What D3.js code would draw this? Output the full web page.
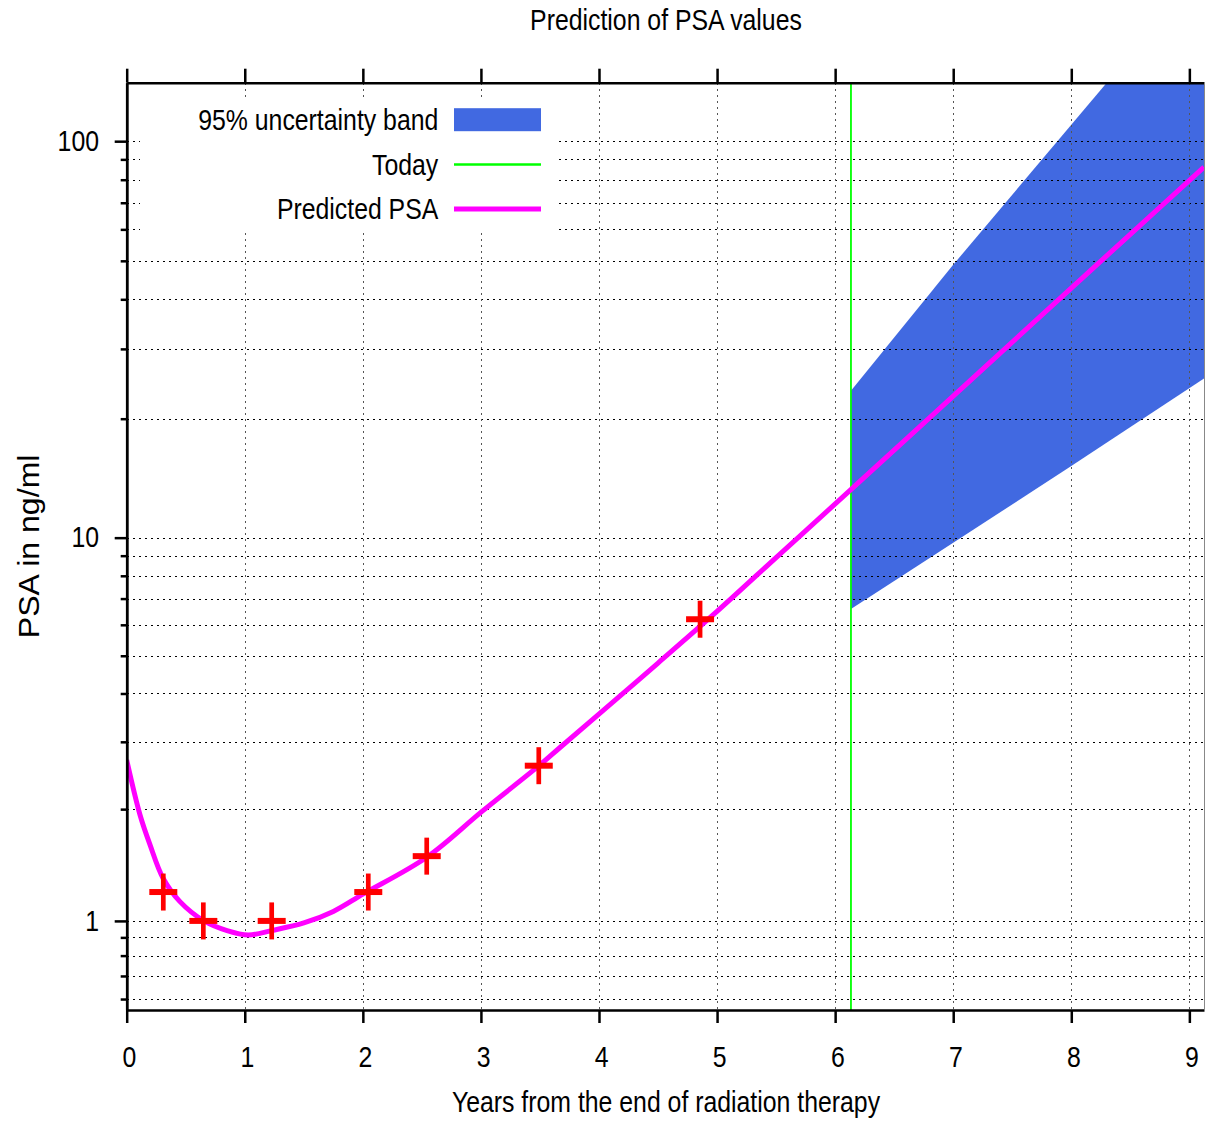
<!DOCTYPE html>
<html>
<head>
<meta charset="utf-8">
<script src="https://cdn.jsdelivr.net/npm/d3@7"></script>
<style>
  html, body { margin: 0; padding: 0; background: #fff; }
  svg { display: block; }
</style>
</head>
<body>
<div id="chart"></div>
<script>
// Measured PSA values (years after radiation therapy, ng/ml)
const measuredYears = [0.31, 0.649, 1.228, 2.046, 2.541, 3.49, 4.856];
const measuredPSA   = [1.2, 1.0, 1.0, 1.2, 1.5, 2.6, 6.2];

// Fitted model curve
const curveYears = [0, 0.113, 0.197, 0.307, 0.451, 0.655, 0.85, 1.03, 1.225, 1.5, 1.75,
                    2.004, 2.541, 3.007, 3.492, 3.67, 4.009, 4.5, 4.997, 5.5, 5.703, 6.14,
                    7, 8, 9.124];
const curvePSA   = [2.69, 1.93, 1.61, 1.31, 1.13, 1.0, 0.94, 0.914, 0.94, 0.987, 1.062,
                    1.186, 1.49, 1.97, 2.60, 2.90, 3.56, 4.79, 6.48, 8.9, 10.1, 13.3,
                    22.8, 42.7, 86.0];

// 95% uncertainty band of the forecast
const bandYears = [6.134, 7, 8, 9.124];
const bandLow   = [6.585, 9.70, 15.19, 25.28];
const bandHigh  = [23.53, 48.87, 110, 273];

const today = 6.134;

// Axis ticks
const xTicks = [0, 1, 2, 3, 4, 5, 6, 7, 8, 9];
const yMajor = [1, 10, 100];
const yMinor = [0.6, 0.7, 0.8, 0.9, 2, 3, 4, 5, 6, 7, 8, 9, 20, 30, 40, 50, 60, 70, 80, 90];

const xDomain = [0, 9.124];
const yDomain = [0.557, 140.3];
const OFFSET = 0.1; // log axis is laid out on (value + OFFSET)

const W = 1205, H = 1125;
const plotL = 126.7, plotR = 1204, plotT = 82.7, plotB = 1010;

const FONT = "'Liberation Sans', Arial, sans-serif";
const NARROW_K = 0.856; // horizontal squeeze giving a narrow face

// squeeze a text horizontally around its own anchor point
function condense(sel, k = NARROW_K) {
  sel.each(function () {
    const t = d3.select(this);
    const ax = +t.attr("x") || 0;
    t.attr("transform", `translate(${ax},0) scale(${k},1) translate(${-ax},0)`);
  });
}

const svg = d3.select("#chart").append("svg")
  .attr("width", W).attr("height", H);

const x = d3.scaleLinear().domain(xDomain).range([plotL, plotR]);
const yS = d3.scaleLog().domain(yDomain.map(v => v + OFFSET)).range([plotB, plotT]);
const y = v => yS(v + OFFSET);

svg.append("defs").append("clipPath").attr("id", "plot-clip")
  .append("rect").attr("x", plotL).attr("y", plotT)
  .attr("width", plotR - plotL).attr("height", plotB - plotT);

const plot = svg.append("g").attr("clip-path", "url(#plot-clip)");

// uncertainty band
const bandData = bandYears.map((t, i) => ({ t, lo: bandLow[i], hi: bandHigh[i] }));
plot.append("path")
  .datum(bandData)
  .attr("fill", "#4169e1")
  .attr("d", d3.area().x(d => x(d.t)).y0(d => y(d.lo)).y1(d => y(d.hi)));

// grid
const grid = plot.append("g")
  .attr("stroke", "#000").attr("stroke-width", 1)
  .attr("stroke-dasharray", "2,4").attr("shape-rendering", "crispEdges");
grid.selectAll("line.h").data(yMajor.concat(yMinor)).join("line")
  .attr("class", "h")
  .attr("x1", plotL).attr("x2", plotR)
  .attr("y1", d => Math.round(y(d)) + 0.5).attr("y2", d => Math.round(y(d)) + 0.5);
grid.selectAll("line.v").data(xTicks.filter(d => d > 0)).join("line")
  .attr("class", "v")
  .attr("stroke", "#555")
  .attr("x1", d => Math.round(x(d)) + 0.5).attr("x2", d => Math.round(x(d)) + 0.5)
  .attr("y1", plotT).attr("y2", plotB);

// today marker
plot.append("line")
  .attr("x1", x(today)).attr("x2", x(today))
  .attr("y1", plotT).attr("y2", plotB)
  .attr("stroke", "#00ff00").attr("stroke-width", 1.8);

// predicted curve
const curveData = curveYears.map((t, i) => ({ t, v: curvePSA[i] }));
plot.append("path")
  .datum(curveData)
  .attr("fill", "none")
  .attr("stroke", "#ff00ff")
  .attr("stroke-width", 5)
  .attr("stroke-linejoin", "round")
  .attr("d", d3.line().x(d => x(d.t)).y(d => y(d.v)).curve(d3.curveCatmullRom.alpha(0.5)));

// measurements
const pts = measuredYears.map((t, i) => ({ t, v: measuredPSA[i] }));
const marks = svg.append("g").attr("stroke", "#ff0000");
marks.selectAll("line.hbar").data(pts).join("line")
  .attr("class", "hbar")
  .attr("x1", d => x(d.t) - 14).attr("x2", d => x(d.t) + 14)
  .attr("y1", d => y(d.v)).attr("y2", d => y(d.v))
  .attr("stroke-width", 6);
marks.selectAll("line.vbar").data(pts).join("line")
  .attr("class", "vbar")
  .attr("x1", d => x(d.t)).attr("x2", d => x(d.t))
  .attr("y1", d => y(d.v) - 18.5).attr("y2", d => y(d.v) + 18.5)
  .attr("stroke-width", 4.7);

// axes
function styleAxis(g) {
  g.selectAll(".domain").attr("stroke", "#000").attr("stroke-width", 2.5);
  g.selectAll(".tick line").attr("stroke", "#000").attr("stroke-width", 2.5);
  g.selectAll("text").attr("font-family", FONT).attr("font-size", 29).attr("fill", "#000")
    .call(condense);
}

const xAxis = svg.append("g").attr("transform", `translate(0,${plotB})`)
  .call(d3.axisBottom(x).tickValues(xTicks).tickSize(13).tickSizeOuter(0).tickPadding(23.7)
    .tickFormat(d3.format("d")))
  .call(styleAxis);
xAxis.selectAll("text").attr("dx", 2.5);

svg.append("g").attr("transform", `translate(0,${plotT})`)
  .call(d3.axisTop(x).tickValues(xTicks).tickSize(14).tickSizeOuter(0).tickFormat(""))
  .call(styleAxis);

svg.append("g").attr("transform", `translate(${plotL},0)`)
  .call(d3.axisLeft(yS).tickValues(yMajor.map(v => v + OFFSET)).tickSize(12).tickSizeOuter(0)
    .tickPadding(15.7).tickFormat(v => d3.format("d")(Math.round(v - OFFSET))))
  .call(styleAxis);

svg.append("g").attr("transform", `translate(${plotL},0)`)
  .call(d3.axisLeft(yS).tickValues(yMinor.map(v => v + OFFSET)).tickSize(6).tickSizeOuter(0)
    .tickFormat(""))
  .call(styleAxis);

// right border
svg.append("line")
  .attr("x1", plotR + 0.5).attr("x2", plotR + 0.5).attr("y1", plotT).attr("y2", plotB)
  .attr("stroke", "#888").attr("stroke-width", 1);

// legend
const legendItems = [
  { label: "95% uncertainty band", kind: "band" },
  { label: "Today", kind: "today" },
  { label: "Predicted PSA", kind: "curve" }
];
const lg = svg.append("g");
lg.append("rect").attr("x", 140).attr("y", 97).attr("width", 416).attr("height", 134)
  .attr("fill", "#fff");
legendItems.forEach((item, i) => {
  const cy = 119.7 + i * 44.7;
  lg.append("text")
    .attr("x", 438.3).attr("y", cy).attr("dy", "0.35em")
    .attr("text-anchor", "end")
    .attr("font-family", FONT).attr("font-size", 29)
    .text(item.label)
    .call(condense);
  if (item.kind === "band") {
    lg.append("rect").attr("x", 454).attr("y", cy - 11.5).attr("width", 87).attr("height", 23)
      .attr("fill", "#4169e1");
  } else if (item.kind === "today") {
    lg.append("line").attr("x1", 454).attr("x2", 541).attr("y1", cy).attr("y2", cy)
      .attr("stroke", "#00ff00").attr("stroke-width", 2.5);
  } else {
    lg.append("line").attr("x1", 454).attr("x2", 541).attr("y1", cy).attr("y2", cy)
      .attr("stroke", "#ff00ff").attr("stroke-width", 5);
  }
});

// titles
svg.append("text")
  .attr("x", 666).attr("y", 30.5).attr("text-anchor", "middle")
  .attr("font-family", FONT).attr("font-size", 29)
  .text("Prediction of PSA values")
  .call(condense);

svg.append("text")
  .attr("x", 666).attr("y", 1112).attr("text-anchor", "middle")
  .attr("font-family", FONT).attr("font-size", 29)
  .text("Years from the end of radiation therapy")
  .call(condense);

svg.append("text")
  .attr("transform", `translate(38.5,${(plotT + plotB) / 2}) rotate(-90) scale(1.07,1)`)
  .attr("text-anchor", "middle")
  .attr("font-family", FONT).attr("font-size", 30)
  .text("PSA in ng/ml");
</script>
</body>
</html>
